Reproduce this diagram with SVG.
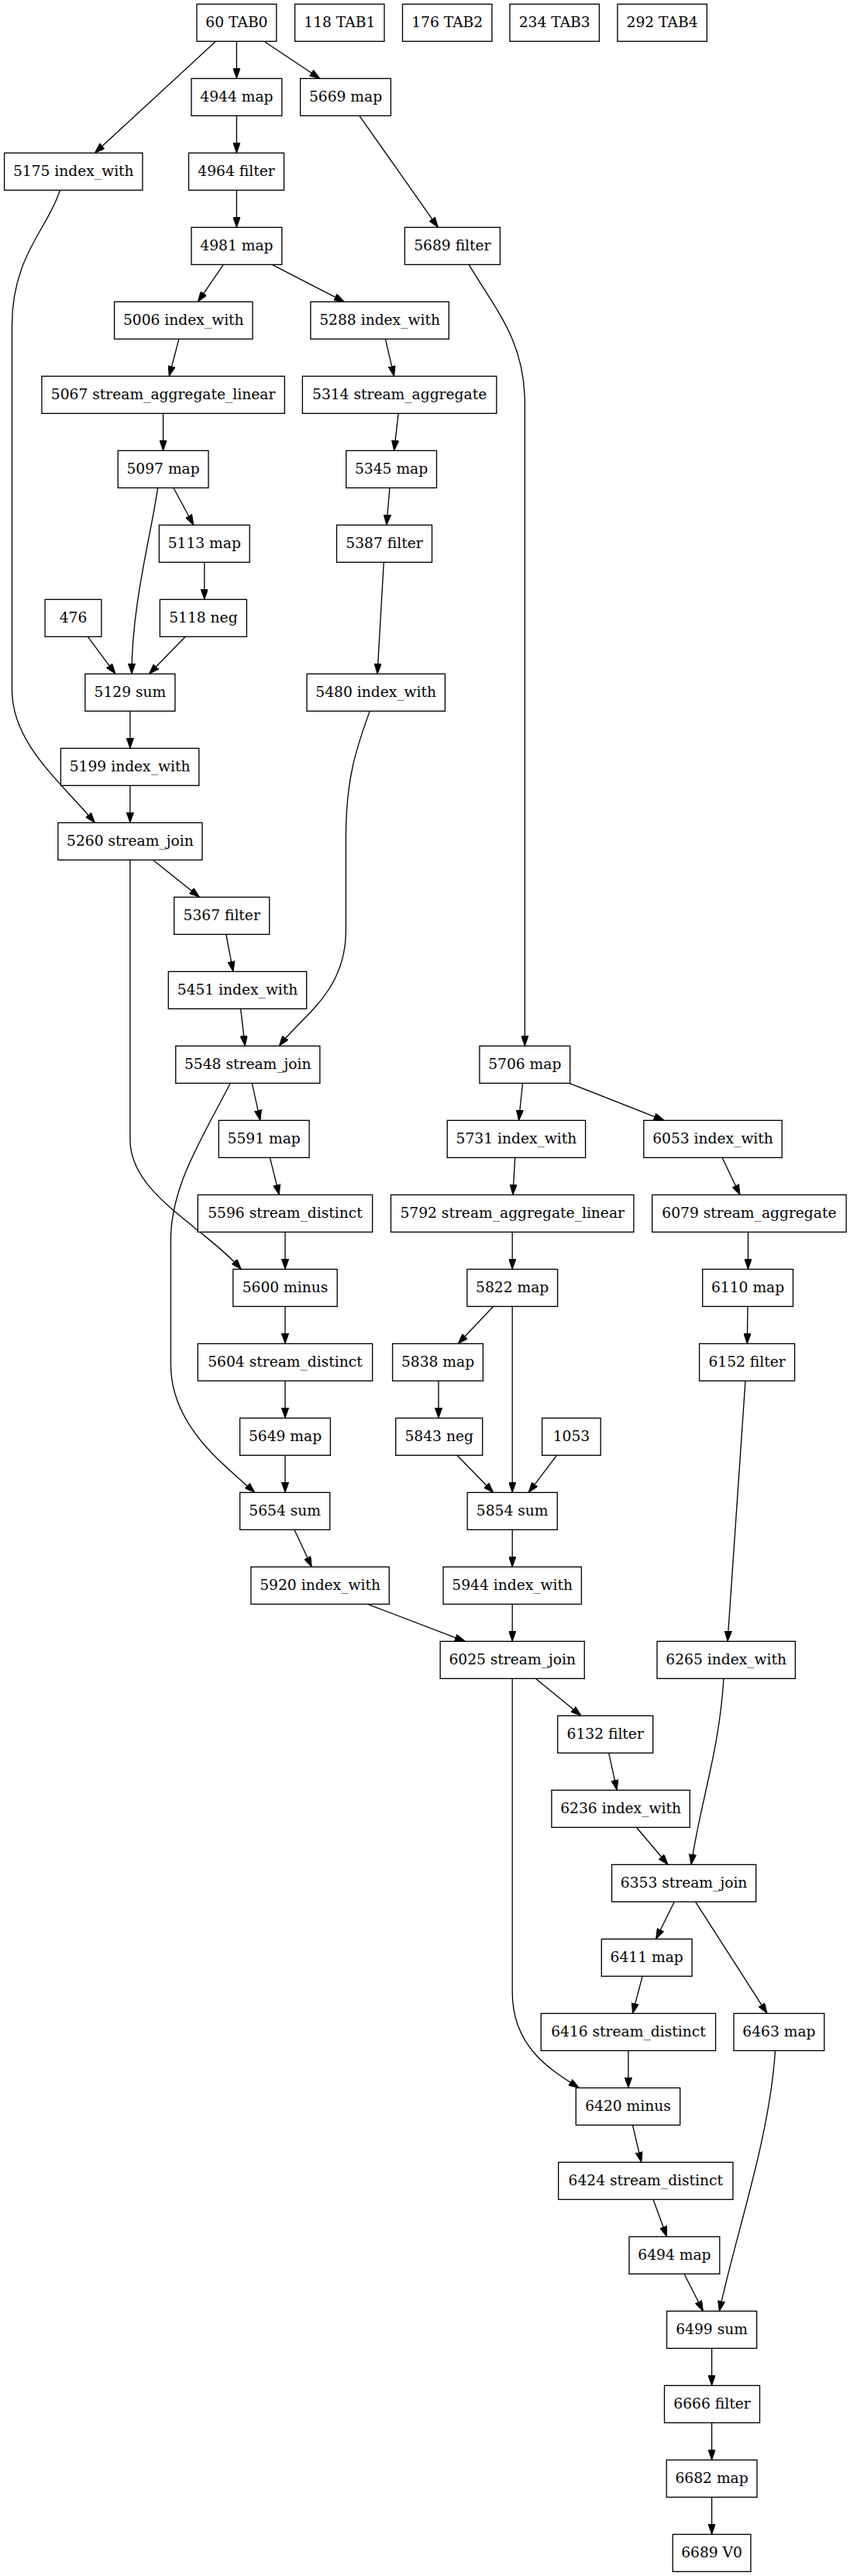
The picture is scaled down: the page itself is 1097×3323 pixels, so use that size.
<svg xmlns="http://www.w3.org/2000/svg" width="1097" height="3323" viewBox="0 0 1097 3323">
<style>
.n rect{fill:#fff;stroke:#000;stroke-width:1.33}
.n text{font-family:"DejaVu Serif",serif;font-size:18.67px;text-anchor:middle;fill:#000}
.e path{fill:none;stroke:#000;stroke-width:1.33;marker-end:url(#ah)}
</style>
<defs>
<marker id="ah" viewBox="0 0 13.33 9.33" refX="13.33" refY="4.67" markerWidth="13.33" markerHeight="9.33" orient="auto" markerUnits="userSpaceOnUse">
<path d="M0,0 L13.33,4.67 L0,9.33 z" fill="#000" stroke="#000" stroke-width="1"/>
</marker>
</defs>
<rect width="1097" height="3323" fill="#fff"/>
<g class="e">
<path d="M278.5,53.3 L122.4,197.3"/>
<path d="M305.4,53.3 L305.4,101.3"/>
<path d="M340.7,53.3 L412.8,101.3"/>
<path d="M305.4,149.3 L305.4,197.3"/>
<path d="M463.9,149.3 L565.3,293.3"/>
<path d="M305.4,245.3 L305.4,293.3"/>
<path d="M77.5,245.3 C62,295 15.5,330 15.5,420 L15.5,890 C15.5,960 80,1010 122.4,1061.3"/>
<path d="M288.3,341.3 L255.4,389.3"/>
<path d="M351.2,341.3 L444.3,389.3"/>
<path d="M605.2,341.3 C640,400 677.3,440 677.3,520 L677.3,1349.3"/>
<path d="M230.9,437.3 L218.3,485.3"/>
<path d="M497.4,437.3 L508.6,485.3"/>
<path d="M210.6,533.3 L210.6,581.3"/>
<path d="M514.2,533.3 L508.6,581.3"/>
<path d="M223.9,629.3 L249.8,677.3"/>
<path d="M203.6,629.3 C195,690 170,780 170,869.3"/>
<path d="M503,629.3 L498.8,677.3"/>
<path d="M263.8,725.3 L263.8,773.3"/>
<path d="M495.3,725.3 L487,869.3"/>
<path d="M113.3,821.3 L149,869.3"/>
<path d="M239.3,821.3 L192.4,869.3"/>
<path d="M167.9,917.3 L167.9,965.3"/>
<path d="M167.9,1013.3 L167.9,1061.3"/>
<path d="M477.2,917.3 C462,960 446.4,1000 446.4,1080 L446.4,1200 C446.4,1280 390,1310 360.3,1349.3"/>
<path d="M197.3,1109.3 L257.5,1157.3"/>
<path d="M167.9,1109.3 L167.9,1470 C167.9,1540 260,1580 311.3,1637.3"/>
<path d="M291.8,1205.3 L300.9,1253.3"/>
<path d="M310.6,1301.3 L316.2,1349.3"/>
<path d="M325.3,1397.3 L335.8,1445.3"/>
<path d="M297.3,1397.3 C260,1470 220.4,1530 220.4,1600 L220.4,1760 C220.4,1840 290,1890 328.8,1925.3"/>
<path d="M348.4,1493.3 L360.3,1541.3"/>
<path d="M368,1589.3 L368,1637.3"/>
<path d="M368,1685.3 L368,1733.3"/>
<path d="M368,1781.3 L368,1829.3"/>
<path d="M368,1877.3 L368,1925.3"/>
<path d="M674.5,1397.3 L669.6,1445.3"/>
<path d="M734.6,1397.3 L857.1,1445.3"/>
<path d="M664.7,1493.3 L661.9,1541.3"/>
<path d="M932,1493.3 L955,1541.3"/>
<path d="M661.2,1589.3 L661.2,1637.3"/>
<path d="M965.5,1589.3 L965.5,1637.3"/>
<path d="M636.7,1685.3 L591.2,1733.3"/>
<path d="M661.2,1685.3 L661.2,1925.3"/>
<path d="M965,1685.3 L964.3,1733.3"/>
<path d="M566,1781.3 L566,1829.3"/>
<path d="M589.8,1877.3 L636.7,1925.3"/>
<path d="M718.5,1877.3 L682.2,1925.3"/>
<path d="M962,1781.3 L939,2117.3"/>
<path d="M379.9,1973.3 L402.3,2021.3"/>
<path d="M661.2,1973.3 L661.2,2021.3"/>
<path d="M474.4,2069.3 L600.3,2117.3"/>
<path d="M661.2,2069.3 L661.2,2117.3"/>
<path d="M691.2,2165.3 L750,2213.3"/>
<path d="M661.2,2165.3 L661.2,2570 C661.2,2640 710,2670 747.2,2693.3"/>
<path d="M934,2165.3 C928,2260 905,2320 892,2405.3"/>
<path d="M785.7,2261.3 L796.2,2309.3"/>
<path d="M821.4,2357.3 L862,2405.3"/>
<path d="M870.3,2453.3 L846.6,2501.3"/>
<path d="M897.6,2453.3 L990,2597.3"/>
<path d="M829.1,2549.3 L816.5,2597.3"/>
<path d="M810.9,2645.3 L810.9,2693.3"/>
<path d="M816.5,2741.3 L827.7,2789.3"/>
<path d="M1000.5,2645.3 C993,2760 950,2880 928.4,2981.3"/>
<path d="M843,2837.3 L860.6,2885.3"/>
<path d="M883,2933.3 L907.4,2981.3"/>
<path d="M918.6,3029.3 L918.6,3077.3"/>
<path d="M918.6,3125.3 L918.6,3173.3"/>
<path d="M918.6,3221.3 L918.6,3269.3"/>
</g>
<g class="n" id="n60"><rect x="254" y="5.33" width="102.8" height="48"/><text x="305.4" y="34.7">60 TAB0</text></g>
<g class="n" id="n118"><rect x="380.6" y="5.33" width="115.4" height="48"/><text x="438.3" y="34.7">118 TAB1</text></g>
<g class="n" id="n176"><rect x="519.5" y="5.33" width="115.4" height="48"/><text x="577.2" y="34.7">176 TAB2</text></g>
<g class="n" id="n234"><rect x="658" y="5.33" width="115.4" height="48"/><text x="715.7" y="34.7">234 TAB3</text></g>
<g class="n" id="n292"><rect x="796.9" y="5.33" width="115.4" height="48"/><text x="854.6" y="34.7">292 TAB4</text></g>
<g class="n" id="n4944"><rect x="247" y="101.33" width="116.8" height="48"/><text x="305.4" y="130.7">4944 map</text></g>
<g class="n" id="n5669"><rect x="387.6" y="101.33" width="116.8" height="48"/><text x="446" y="130.7">5669 map</text></g>
<g class="n" id="n5175"><rect x="5.6" y="197.33" width="178.4" height="48"/><text x="94.8" y="226.7">5175 index_with</text></g>
<g class="n" id="n4964"><rect x="243.5" y="197.33" width="123" height="48"/><text x="305" y="226.7">4964 filter</text></g>
<g class="n" id="n4981"><rect x="247" y="293.33" width="116.8" height="48"/><text x="305.4" y="322.7">4981 map</text></g>
<g class="n" id="n5689"><rect x="522.4" y="293.33" width="123" height="48"/><text x="583.9" y="322.7">5689 filter</text></g>
<g class="n" id="n5006"><rect x="147.6" y="389.33" width="178.4" height="48"/><text x="236.8" y="418.7">5006 index_with</text></g>
<g class="n" id="n5288"><rect x="400.9" y="389.33" width="178.4" height="48"/><text x="490.1" y="418.7">5288 index_with</text></g>
<g class="n" id="n5067"><rect x="53.9" y="485.33" width="313.4" height="48"/><text x="210.6" y="514.7">5067 stream_aggregate_linear</text></g>
<g class="n" id="n5314"><rect x="390.35" y="485.33" width="250.5" height="48"/><text x="515.6" y="514.7">5314 stream_aggregate</text></g>
<g class="n" id="n5097"><rect x="152.2" y="581.33" width="116.8" height="48"/><text x="210.6" y="610.7">5097 map</text></g>
<g class="n" id="n5345"><rect x="446.7" y="581.33" width="116.8" height="48"/><text x="505.1" y="610.7">5345 map</text></g>
<g class="n" id="n5113"><rect x="205.4" y="677.33" width="116.8" height="48"/><text x="263.8" y="706.7">5113 map</text></g>
<g class="n" id="n5387"><rect x="434.5" y="677.33" width="123" height="48"/><text x="496" y="706.7">5387 filter</text></g>
<g class="n" id="n476"><rect x="58.1" y="773.33" width="72.8" height="48"/><text x="94.5" y="802.7">476</text></g>
<g class="n" id="n5118"><rect x="206.4" y="773.33" width="112" height="48"/><text x="262.4" y="802.7">5118 neg</text></g>
<g class="n" id="n5129"><rect x="109.85" y="869.33" width="116.1" height="48"/><text x="167.9" y="898.7">5129 sum</text></g>
<g class="n" id="n5480"><rect x="396" y="869.33" width="178.4" height="48"/><text x="485.2" y="898.7">5480 index_with</text></g>
<g class="n" id="n5199"><rect x="78.4" y="965.33" width="178.4" height="48"/><text x="167.6" y="994.7">5199 index_with</text></g>
<g class="n" id="n5260"><rect x="74.85" y="1061.33" width="186.1" height="48"/><text x="167.9" y="1090.7">5260 stream_join</text></g>
<g class="n" id="n5367"><rect x="224.7" y="1157.33" width="123" height="48"/><text x="286.2" y="1186.7">5367 filter</text></g>
<g class="n" id="n5451"><rect x="217.3" y="1253.33" width="178.4" height="48"/><text x="306.5" y="1282.7">5451 index_with</text></g>
<g class="n" id="n5548"><rect x="226.75" y="1349.33" width="186.1" height="48"/><text x="319.8" y="1378.7">5548 stream_join</text></g>
<g class="n" id="n5706"><rect x="618.9" y="1349.33" width="116.8" height="48"/><text x="677.3" y="1378.7">5706 map</text></g>
<g class="n" id="n5591"><rect x="282.3" y="1445.33" width="116.8" height="48"/><text x="340.7" y="1474.7">5591 map</text></g>
<g class="n" id="n5731"><rect x="577.2" y="1445.33" width="178.4" height="48"/><text x="666.4" y="1474.7">5731 index_with</text></g>
<g class="n" id="n6053"><rect x="830.8" y="1445.33" width="178.4" height="48"/><text x="920" y="1474.7">6053 index_with</text></g>
<g class="n" id="n5596"><rect x="255.35" y="1541.33" width="225.3" height="48"/><text x="368" y="1570.7">5596 stream_distinct</text></g>
<g class="n" id="n5792"><rect x="504.5" y="1541.33" width="313.4" height="48"/><text x="661.2" y="1570.7">5792 stream_aggregate_linear</text></g>
<g class="n" id="n6079"><rect x="841.65" y="1541.33" width="250.5" height="48"/><text x="966.9" y="1570.7">6079 stream_aggregate</text></g>
<g class="n" id="n5600"><rect x="300.8" y="1637.33" width="134.4" height="48"/><text x="368" y="1666.7">5600 minus</text></g>
<g class="n" id="n5822"><rect x="602.8" y="1637.33" width="116.8" height="48"/><text x="661.2" y="1666.7">5822 map</text></g>
<g class="n" id="n6110"><rect x="906.7" y="1637.33" width="116.8" height="48"/><text x="965.1" y="1666.7">6110 map</text></g>
<g class="n" id="n5604"><rect x="255.35" y="1733.33" width="225.3" height="48"/><text x="368" y="1762.7">5604 stream_distinct</text></g>
<g class="n" id="n5838"><rect x="506.6" y="1733.33" width="116.8" height="48"/><text x="565" y="1762.7">5838 map</text></g>
<g class="n" id="n6152"><rect x="902.6" y="1733.33" width="123" height="48"/><text x="964.1" y="1762.7">6152 filter</text></g>
<g class="n" id="n5649"><rect x="309.6" y="1829.33" width="116.8" height="48"/><text x="368" y="1858.7">5649 map</text></g>
<g class="n" id="n5843"><rect x="510.7" y="1829.33" width="112" height="48"/><text x="566.7" y="1858.7">5843 neg</text></g>
<g class="n" id="n1053"><rect x="699.6" y="1829.33" width="75.6" height="48"/><text x="737.4" y="1858.7">1053</text></g>
<g class="n" id="n5654"><rect x="309.65" y="1925.33" width="116.1" height="48"/><text x="367.7" y="1954.7">5654 sum</text></g>
<g class="n" id="n5854"><rect x="603.15" y="1925.33" width="116.1" height="48"/><text x="661.2" y="1954.7">5854 sum</text></g>
<g class="n" id="n5920"><rect x="323.9" y="2021.33" width="178.4" height="48"/><text x="413.1" y="2050.7">5920 index_with</text></g>
<g class="n" id="n5944"><rect x="572" y="2021.33" width="178.4" height="48"/><text x="661.2" y="2050.7">5944 index_with</text></g>
<g class="n" id="n6025"><rect x="568.15" y="2117.33" width="186.1" height="48"/><text x="661.2" y="2146.7">6025 stream_join</text></g>
<g class="n" id="n6265"><rect x="848" y="2117.33" width="178.4" height="48"/><text x="937.2" y="2146.7">6265 index_with</text></g>
<g class="n" id="n6132"><rect x="719.7" y="2213.33" width="123" height="48"/><text x="781.2" y="2242.7">6132 filter</text></g>
<g class="n" id="n6236"><rect x="711.9" y="2309.33" width="178.4" height="48"/><text x="801.1" y="2338.7">6236 index_with</text></g>
<g class="n" id="n6353"><rect x="789.55" y="2405.33" width="186.1" height="48"/><text x="882.6" y="2434.7">6353 stream_join</text></g>
<g class="n" id="n6411"><rect x="776.3" y="2501.33" width="116.8" height="48"/><text x="834.7" y="2530.7">6411 map</text></g>
<g class="n" id="n6416"><rect x="698.25" y="2597.33" width="225.3" height="48"/><text x="810.9" y="2626.7">6416 stream_distinct</text></g>
<g class="n" id="n6463"><rect x="947" y="2597.33" width="116.8" height="48"/><text x="1005.4" y="2626.7">6463 map</text></g>
<g class="n" id="n6420"><rect x="743.3" y="2693.33" width="134.4" height="48"/><text x="810.5" y="2722.7">6420 minus</text></g>
<g class="n" id="n6424"><rect x="720.65" y="2789.33" width="225.3" height="48"/><text x="833.3" y="2818.7">6424 stream_distinct</text></g>
<g class="n" id="n6494"><rect x="812" y="2885.33" width="116.8" height="48"/><text x="870.4" y="2914.7">6494 map</text></g>
<g class="n" id="n6499"><rect x="860.55" y="2981.33" width="116.1" height="48"/><text x="918.6" y="3010.7">6499 sum</text></g>
<g class="n" id="n6666"><rect x="857.5" y="3077.33" width="123" height="48"/><text x="919" y="3106.7">6666 filter</text></g>
<g class="n" id="n6682"><rect x="860.2" y="3173.33" width="116.8" height="48"/><text x="918.6" y="3202.7">6682 map</text></g>
<g class="n" id="n6689"><rect x="868.25" y="3269.33" width="100.7" height="48"/><text x="918.6" y="3298.7">6689 V0</text></g>
</svg>
